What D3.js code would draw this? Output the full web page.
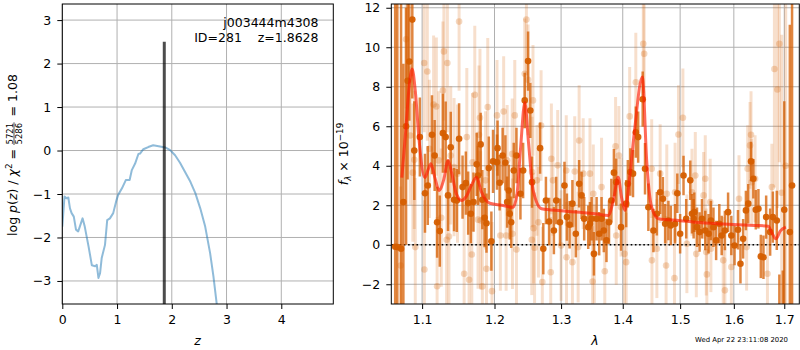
<!DOCTYPE html>
<html>
<head>
<meta charset="utf-8">
<script src="https://cdn.jsdelivr.net/npm/d3@7"></script>
<style>
  body { margin: 0; background: #fff; }
  text { font-family: "DejaVu Sans", sans-serif; }
</style>
</head>
<body>
<svg id="fig" width="800" height="350"></svg>
<script>
/* p(z) panel data */
var zGrid  = [0.0, 0.04, 0.08, 0.11, 0.14, 0.17, 0.21, 0.25, 0.29, 0.32, 0.37, 0.41, 0.48, 0.54, 0.60, 0.63, 0.66, 0.69, 0.72, 0.78, 0.82, 0.87, 0.93, 0.99, 1.02, 1.09, 1.16, 1.23, 1.27, 1.33, 1.39, 1.42, 1.48, 1.57, 1.66, 1.76, 1.88, 1.97, 2.06, 2.15, 2.24, 2.34, 2.43, 2.52, 2.61, 2.70, 2.76, 2.82, 2.87];
var logPz  = [-1.75, -1.06, -1.10, -1.08, -1.33, -1.44, -1.52, -1.82, -1.86, -1.75, -1.56, -1.75, -2.21, -2.64, -2.66, -2.63, -2.93, -2.82, -2.47, -2.17, -1.60, -1.56, -1.44, -1.14, -1.02, -0.87, -0.68, -0.68, -0.45, -0.30, -0.08, -0.07, 0.03, 0.08, 0.12, 0.10, 0.07, 0.01, -0.11, -0.28, -0.49, -0.72, -0.98, -1.33, -1.75, -2.36, -2.89, -3.52, -4.00];
var zBest = 1.8628;
var zTicks = [0, 1, 2, 3, 4];
var pzTicks = [-3, -2, -1, 0, 1, 2, 3];

/* spectrum panel data: good pixels (dark) */
var darkWave = [1.0650, 1.0677, 1.0725, 1.0755, 1.0790, 1.0810, 1.0832, 1.0871, 1.0897, 1.0970, 1.1038, 1.1075, 1.1131, 1.1167, 1.1200, 1.1236, 1.1278, 1.1316, 1.1348, 1.1385, 1.1431, 1.1468, 1.1500, 1.1548, 1.1594, 1.1626, 1.1663, 1.1701, 1.1746, 1.1764, 1.1802, 1.1826, 1.1858, 1.1885, 1.1918, 1.1955, 1.1979,
  1.2036, 1.2044, 1.2074, 1.2118, 1.2158, 1.2184, 1.2207, 1.2222, 1.2243, 1.2281, 1.2321, 1.2380, 1.2420, 1.2444, 1.2494, 1.2528, 1.2554, 1.2676, 1.2725, 1.2765, 1.2814, 1.2888, 1.2924, 1.2983, 1.3053, 1.3091, 1.3134, 1.3178, 1.3232, 1.3285, 1.3324, 1.3366, 1.3431, 1.3459, 1.3486, 1.3523,
  1.3567, 1.3609, 1.3648, 1.3685, 1.3729, 1.3771, 1.3810, 1.3852, 1.3891, 1.3972, 1.4058, 1.4086, 1.4128, 1.4174, 1.4222, 1.4262, 1.4340, 1.4380, 1.4438, 1.4526, 1.4586, 1.4644, 1.4692, 1.4732, 1.4790, 1.4833, 1.4909, 1.4949, 1.5000, 1.5061, 1.5110, 1.5184,
  1.5215, 1.5245, 1.5258, 1.5307, 1.5355, 1.5399, 1.5460, 1.5521, 1.5565, 1.5613, 1.5663, 1.5723, 1.5768, 1.5829, 1.5890, 1.5952, 1.6014, 1.6080, 1.6128, 1.6180, 1.6234, 1.6280, 1.6334, 1.6380, 1.6428, 1.6480, 1.6528, 1.6580, 1.6634, 1.6714, 1.6768, 1.6848, 1.6900, 1.6970, 1.7000, 1.7114, 1.7160];
var darkFlux = [-0.10, -0.12, -0.20, 2.16, 6.0, 8.3, 9.28, 11.4, 4.77, 5.45, 2.61, 3.0, 5.57, 4.52, 1.14, 0.69, 5.65, 5.45, 2.5, 4.94, 2.28, 2.24, 5.37, 2.92, 3.12, 2.11, 1.57, 2.16, 4.07, 3.51, 5.08, 2.28, 1.37, 1.09, 3.88, 0.18, 4.22,
  4.18, 4.89, 3.14, 4.52, 4.15, 2.16, 2.75, 1.57, 1.14, 3.76, 4.52, 2.58, 3.76, 7.31, 9.3, 6.8, 3.17, 4.89, -0.2, 2.24, 1.18, 0.72, 2.24, 1.14, 3.0, 1.4, 1.01, 2.08, 0.56, 3.09, 2.5, 1.32, 0.89, 1.06, 1.32, -0.46,
  1.32, 0.56, 1.32, 0.72, 0.22, 1.14, 2.24, 3.65, 3.17, 0.89, 2.08, 3.09, 3.68, 3.6, 5.7, 5.45, 7.37, 3.85, 1.9, 0.72, 1.57, 2.66, 2.33, 1.06, 1.23, 0.98, 1.06, 2.61, 0.56, 3.51, 1.32, 3.26,
  1.57, 1.32, 1.65, 0.89, 0.64, 1.32, 0.72, 0.56, 1.23, 0.89, 0.22, 1.06, 0.47, 0.72, 1.65, 0.47, -0.04, 0.76, -0.96, 0.3, 1.74, 2.08, 4.22, 3.34, 1.77, 1.82, -0.59, -0.63, 1.4, 0.64, 1.4, 1.23, -4.0, -3.8, 1.77, 0.64, 3.0];
var darkErr = [16, 15, 14, 7, 6, 5, 3, 4, 2.5, 2.0, 2.0, 2.0, 2.0, 1.8, 1.8, 1.8, 2.0, 1.8, 1.8, 1.8, 1.6, 1.6, 1.8, 1.6, 1.6, 1.6, 1.5, 1.5, 1.6, 1.5, 1.6, 1.5, 1.5, 1.5, 1.6, 1.5, 1.6,
  1.4, 1.4, 1.4, 1.4, 1.4, 1.3, 1.3, 1.3, 1.3, 1.4, 1.4, 1.3, 1.4, 1.4, 1.5, 1.4, 1.3, 1.3, 1.3, 1.2, 1.2, 1.2, 1.2, 1.2, 1.2, 1.2, 1.2, 1.2, 1.2, 1.2, 1.2, 1.1, 1.1, 1.1, 1.1, 1.1,
  1.1, 1.1, 1.1, 1.1, 1.1, 1.1, 1.1, 1.2, 1.2, 1.2, 1.2, 1.2, 1.2, 1.2, 1.3, 1.3, 1.4, 1.3, 1.2, 1.1, 1.1, 1.1, 1.1, 1.0, 1.0, 1.0, 1.0, 1.0, 1.0, 1.0, 1.0, 1.0,
  1.0, 1.0, 1.0, 1.0, 1.0, 1.0, 1.0, 1.0, 1.0, 1.0, 1.0, 1.0, 1.0, 1.0, 1.0, 1.0, 1.0, 1.0, 1.0, 1.0, 1.0, 1.0, 1.0, 1.0, 1.0, 1.0, 1.1, 1.1, 1.1, 1.2, 1.3, 1.5, 2.5, 2.5, 5.5, 10.5, 12];

/* masked / down-weighted pixels (light) */
var lightWave = [1.0720, 1.0790, 1.0844, 1.0878, 1.0897, 1.0910, 1.1027, 1.1030, 1.1069, 1.1097, 1.1153, 1.1190, 1.1200, 1.1222, 1.1256, 1.1278, 1.1292, 1.1329, 1.1339, 1.1361, 1.1385, 1.1431, 1.1478, 1.1500, 1.1570, 1.1607, 1.1639, 1.1677, 1.1687, 1.1719, 1.1765, 1.1778, 1.1792, 1.1802, 1.1826, 1.1872, 1.1885, 1.1903, 1.1964,
  1.2036, 1.2085, 1.2133, 1.2169, 1.2184, 1.2258, 1.2262, 1.2296, 1.2321, 1.2444, 1.2469, 1.2494, 1.2550, 1.2554, 1.2568, 1.2577, 1.2592, 1.2628, 1.2651, 1.2691, 1.2710, 1.2839, 1.2849, 1.2873, 1.2947, 1.3000, 1.3081, 1.3085, 1.3178, 1.3215, 1.3269, 1.3285, 1.3350, 1.3459, 1.3502,
  1.3513, 1.3530, 1.3648, 1.3701, 1.3880, 1.3891, 1.3935, 1.3972, 1.4030, 1.4058, 1.4117, 1.4222, 1.4350, 1.4365, 1.4496, 1.4500, 1.4586, 1.4644, 1.4749, 1.4761, 1.4898, 1.4909, 1.4970, 1.5050, 1.5122,
  1.5215, 1.5276, 1.5294, 1.5429, 1.5460, 1.5478, 1.5490, 1.5552, 1.5565, 1.5797, 1.5829, 1.5952, 1.6100, 1.6248, 1.6268, 1.6314, 1.6334, 1.6348, 1.6414, 1.6660, 1.6748, 1.6800, 1.6860, 1.6900, 1.6948, 1.7030];
var lightFlux = [-1.05, 10.4, 5.53, 3.65, 4.3, -0.12, 9.2, -1.25, 8.77, 4.86, 7.1, 7.0, -2.1, 4.27, 1.37, 7.81, 9.79, 0.25, 9.2, 0.42, 4.52, 3.93, 3.6, 11.3, -1.47, 5.45, -1.77, -0.49, 4.18, 7.59, 1.27, 5.57, 6.43, 1.23, -2.11, 3.26, -1.22, 6.97, -2.35,
  6.55, 0.47, 6.75, 0.47, 4.27, 4.6, 0.56, 6.55, -0.24, 8.66, 11.4, 8.35, 0.25, 3.68, 7.31, 0.84, -0.15, 3.26, 1.14, 6.04, -1.89, -1.39, 4.35, 3.26, 4.02, -0.04, 3.76, -0.63, -0.88, 3.71, -0.12, 5.28, 3.6, 3.6, -1.86,
  2.58, -0.46, 2.92, -1.34, 4.98, 0.47, 4.52, 1.9, -0.46, -0.88, 6.5, 8.23, 10.18, 9.67, 3.85, -0.79, -0.2, 3.6, -1.05, 2.58, -1.69, 2.66, 5.58, 6.43, 0.05,
  2.66, 3.51, -0.46, 2.5, 3.34, -0.37, -1.5, 2.16, -0.2, -0.79, -2.31, -1.13, 2.33, -0.12, 3.85, 5.03, 5.57, 3.17, 3.34, -1.47, 2.92, 8.9, 7.86, 10.18, 2.63, 4.0];
var lightErr = [4, 3.5, 3.5, 3.5, 3.5, 3.5, 3.5, 3.5, 3.5, 3.5, 3.5, 3.5, 3.5, 3.5, 3.5, 3.5, 3.5, 3.5, 3.5, 3.5, 3.5, 3.5, 3.5, 3.5, 3.5, 3.5, 3.5, 3.5, 3.5, 3.5, 3.5, 3.5, 3.5, 3.5, 3.5, 3.5, 3.5, 3.5, 3.5,
  2.8, 2.8, 2.8, 2.8, 2.8, 2.8, 2.8, 2.8, 2.8, 2.8, 2.8, 2.8, 2.8, 2.8, 2.8, 2.8, 2.8, 2.8, 2.8, 2.8, 2.8, 2.8, 2.8, 2.8, 2.8, 2.8, 2.8, 2.8, 2.8, 2.8, 2.8, 2.8, 2.8, 2.8, 2.8,
  2.5, 2.5, 2.5, 2.5, 2.5, 2.5, 2.5, 2.5, 2.5, 2.5, 2.5, 2.5, 2.5, 2.5, 2.5, 2.5, 2.5, 2.5, 2.5, 2.5, 2.5, 2.5, 2.5, 2.5, 2.5,
  2.2, 2.2, 2.2, 2.2, 2.2, 2.2, 2.2, 2.2, 2.2, 2.2, 2.2, 2.2, 2.2, 2.2, 2.2, 2.2, 2.2, 2.2, 2.2, 2.2, 2.2, 6, 6, 6, 8, 10];

/* best-fit template */
var modelWave = [1.0735, 1.078, 1.083, 1.0869, 1.091, 1.096, 1.1036, 1.108, 1.1116, 1.117, 1.1227, 1.129, 1.1349, 1.140, 1.146, 1.1534, 1.160, 1.167, 1.1744, 1.181, 1.1933, 1.210, 1.2272, 1.233, 1.238, 1.2446, 1.250, 1.2571, 1.2699, 1.300, 1.330, 1.3539, 1.3757, 1.384, 1.3924, 1.398, 1.4037, 1.412, 1.420, 1.4334, 1.441, 1.4495, 1.4614, 1.50, 1.5268, 1.58, 1.64, 1.6676, 1.675, 1.6830, 1.692, 1.7033];
var modelFlux = [3.4, 5.5, 8.0, 8.9, 7.8, 5.3, 3.4, 3.8, 4.1, 3.4, 2.75, 3.3, 4.27, 3.6, 2.6, 2.24, 2.45, 3.0, 3.42, 2.7, 2.1, 2.0, 1.9, 2.6, 4.8, 7.2, 5.2, 2.75, 1.82, 1.72, 1.64, 1.57, 1.48, 2.2, 3.42, 2.4, 1.74, 3.5, 5.8, 8.49, 4.2, 1.9, 1.32, 1.22, 1.14, 1.05, 0.98, 0.94, 0.6, 0.3, 0.7, 0.89];
var waveTicks = [1.1, 1.2, 1.3, 1.4, 1.5, 1.6, 1.7];
var fluxTicks = [-2, 0, 2, 4, 6, 8, 10, 12];

var svg = d3.select("#fig");
var FS = 12.5;
var gridCol = "#b0b0b0";
var orange = "#d55e00";

function drawAxes(g, x, y, xt, yt, xfmt, yfmt, box) {
  // grid
  g.append("g").selectAll("line").data(xt).join("line")
    .attr("x1", function(d) { return x(d); }).attr("x2", function(d) { return x(d); })
    .attr("y1", box.top).attr("y2", box.bottom)
    .attr("stroke", gridCol).attr("stroke-width", 1);
  g.append("g").selectAll("line").data(yt).join("line")
    .attr("y1", function(d) { return y(d); }).attr("y2", function(d) { return y(d); })
    .attr("x1", box.left).attr("x2", box.right)
    .attr("stroke", gridCol).attr("stroke-width", 1);
}

function finishAxes(g, x, y, xt, yt, xfmt, yfmt, box) {
  var ax = g.append("g").attr("transform", "translate(0," + box.bottom + ")")
    .call(d3.axisBottom(x).tickValues(xt).tickFormat(xfmt).tickSizeOuter(0).tickSize(5).tickPadding(6));
  var ay = g.append("g").attr("transform", "translate(" + box.left + ",0)")
    .call(d3.axisLeft(y).tickValues(yt).tickFormat(yfmt).tickSizeOuter(0).tickSize(5).tickPadding(6));
  [ax, ay].forEach(function(a) {
    a.select(".domain").remove();
    a.selectAll("text").attr("font-size", FS).attr("fill", "#000").attr("font-family", "DejaVu Sans");
    a.selectAll("line").attr("stroke", "#000");
  });
  g.append("rect").attr("x", box.left).attr("y", box.top)
    .attr("width", box.right - box.left).attr("height", box.bottom - box.top)
    .attr("fill", "none").attr("stroke", "#000").attr("stroke-width", 1);
}

// ---------- left panel: p(z)
var boxL = {left: 62.3, right: 333.3, top: 4, bottom: 304};
var xz = d3.scaleLinear().domain([0, 4.95]).range([boxL.left, boxL.right]);
var yz = d3.scaleLinear().domain([-3.53, 3.37]).range([boxL.bottom, boxL.top]);
var gL = svg.append("g");
gL.append("clipPath").attr("id", "clipL").append("rect")
  .attr("x", boxL.left).attr("y", boxL.top).attr("width", boxL.right - boxL.left).attr("height", boxL.bottom - boxL.top);
drawAxes(gL, xz, yz, zTicks, pzTicks, null, null, boxL);

var pzLine = d3.line().x(function(d, i) { return xz(zGrid[i]); }).y(function(d) { return yz(d); });
gL.append("path").datum(logPz).attr("clip-path", "url(#clipL)")
  .attr("d", pzLine).attr("fill", "none").attr("stroke", "#1f77b4").attr("stroke-opacity", 0.5)
  .attr("stroke-width", 2).attr("stroke-linejoin", "round");
gL.append("line").attr("clip-path", "url(#clipL)")
  .attr("x1", xz(zBest)).attr("x2", xz(zBest)).attr("y1", yz(2.5)).attr("y2", boxL.bottom + 2)
  .attr("stroke", "#000").attr("stroke-opacity", 0.7).attr("stroke-width", 3);

finishAxes(gL, xz, yz, zTicks, pzTicks, d3.format("d"), d3.format("d"), boxL);

gL.append("text").attr("x", 318.5).attr("y", 26.5).attr("text-anchor", "end").attr("font-size", FS).text("j003444m4308");
gL.append("text").attr("x", 318.5).attr("y", 41.5).attr("text-anchor", "end").attr("font-size", FS)
  .style("white-space", "pre").text("ID=281    z=" + zBest.toFixed(4));

// x label
var zl = gL.append("text").attr("x", 197.5).attr("y", 345).attr("text-anchor", "middle").attr("font-size", FS)
  .attr("font-style", "italic").text("z");

// y label with fraction
var yLab = svg.append("g");
var t1 = yLab.append("text").attr("font-size", FS);
t1.append("tspan").text("log ");
t1.append("tspan").attr("font-style", "italic").text("p");
t1.append("tspan").text("(");
t1.append("tspan").attr("font-style", "italic").text("z");
t1.append("tspan").text(") / ");
t1.append("tspan").attr("font-style", "italic").text("χ");
t1.append("tspan").attr("font-size", 8.8).attr("dy", -5).text("2");
t1.append("tspan").attr("dy", 5).style("white-space", "pre").text(" = ");
var w1 = t1.node().getComputedTextLength();
var num = yLab.append("text").attr("font-size", 8.5).attr("text-anchor", "middle").text("5721");
var den = yLab.append("text").attr("font-size", 8.5).attr("text-anchor", "middle").text("5286");
var fw = Math.max(num.node().getComputedTextLength(), den.node().getComputedTextLength()) + 1;
num.attr("x", w1 + fw / 2).attr("y", -4.5);
den.attr("x", w1 + fw / 2).attr("y", 5);
yLab.append("line").attr("x1", w1).attr("x2", w1 + fw).attr("y1", -3).attr("y2", -3)
  .attr("stroke", "#000").attr("stroke-width", 0.7);
var t2 = yLab.append("text").attr("font-size", FS).attr("x", w1 + fw + 2).style("white-space", "pre").text(" = 1.08");
var W = w1 + fw + 2 + t2.node().getComputedTextLength();
yLab.attr("transform", "translate(17," + (155 + W / 2) + ") rotate(-90)");

// ---------- right panel: spectrum
var boxR = {left: 391.3, right: 799.3, top: 4, bottom: 304};
var xl = d3.scaleLog().domain([1.060, 1.731]).range([boxR.left, boxR.right]);
var yl = d3.scaleLinear().domain([-3.0, 12.19]).range([boxR.bottom, boxR.top]);
var gR = svg.append("g");
gR.append("clipPath").attr("id", "clipR").append("rect")
  .attr("x", boxR.left).attr("y", boxR.top).attr("width", boxR.right - boxR.left).attr("height", boxR.bottom - boxR.top);
drawAxes(gR, xl, yl, waveTicks, fluxTicks, null, null, boxR);

var plot = gR.append("g").attr("clip-path", "url(#clipR)");

function errSeries(wave, flux, err, barOp, dotOp, lw) {
  var gg = plot.append("g");
  gg.selectAll("line").data(wave).join("line")
    .attr("x1", function(d) { return xl(d); }).attr("x2", function(d) { return xl(d); })
    .attr("y1", function(d, i) { return yl(flux[i] - err[i]); })
    .attr("y2", function(d, i) { return yl(flux[i] + err[i]); })
    .attr("stroke", orange).attr("stroke-opacity", barOp).attr("stroke-width", lw);
  gg.selectAll("circle").data(wave).join("circle")
    .attr("cx", function(d) { return xl(d); })
    .attr("cy", function(d, i) { return yl(flux[i]); })
    .attr("r", 3.3).attr("fill", orange).attr("fill-opacity", dotOp);
}

errSeries(lightWave, lightFlux, lightErr, 0.2, 0.25, 3);

plot.append("line").attr("x1", boxR.left).attr("x2", boxR.right).attr("y1", yl(0)).attr("y2", yl(0))
  .attr("stroke", "#000").attr("stroke-width", 1.6).attr("stroke-dasharray", "1.6,2.6");

errSeries(darkWave, darkFlux, darkErr, 0.75, 0.95, 2.5);

var modelLine = d3.line().curve(d3.curveMonotoneX)
  .x(function(d, i) { return xl(modelWave[i]); }).y(function(d) { return yl(d); });
plot.append("path").datum(modelFlux).attr("d", modelLine).attr("fill", "none")
  .attr("stroke", "#ff1a00").attr("stroke-opacity", 0.65).attr("stroke-width", 3).attr("stroke-linejoin", "round");

finishAxes(gR, xl, yl, waveTicks, fluxTicks, d3.format(".1f"), d3.format("d"), boxR);

gR.append("text").attr("x", 595).attr("y", 345).attr("text-anchor", "middle").attr("font-size", FS)
  .attr("font-style", "italic").text("λ");

var fLab = gR.append("text").attr("transform", "translate(348,154) rotate(-90)")
  .attr("text-anchor", "middle").attr("font-size", FS);
fLab.append("tspan").attr("font-style", "italic").text("f");
fLab.append("tspan").attr("font-style", "italic").attr("font-size", 8.8).attr("dy", 3).text("λ");
fLab.append("tspan").attr("dy", -3).style("white-space", "pre").text(" × 10");
fLab.append("tspan").attr("font-size", 8.8).attr("dy", -5).text("−19");

svg.append("text").attr("x", 788).attr("y", 342).attr("text-anchor", "end").attr("font-size", 6.9)
  .text("Wed Apr 22 23:11:08 2020");
</script>
</body>
</html>
